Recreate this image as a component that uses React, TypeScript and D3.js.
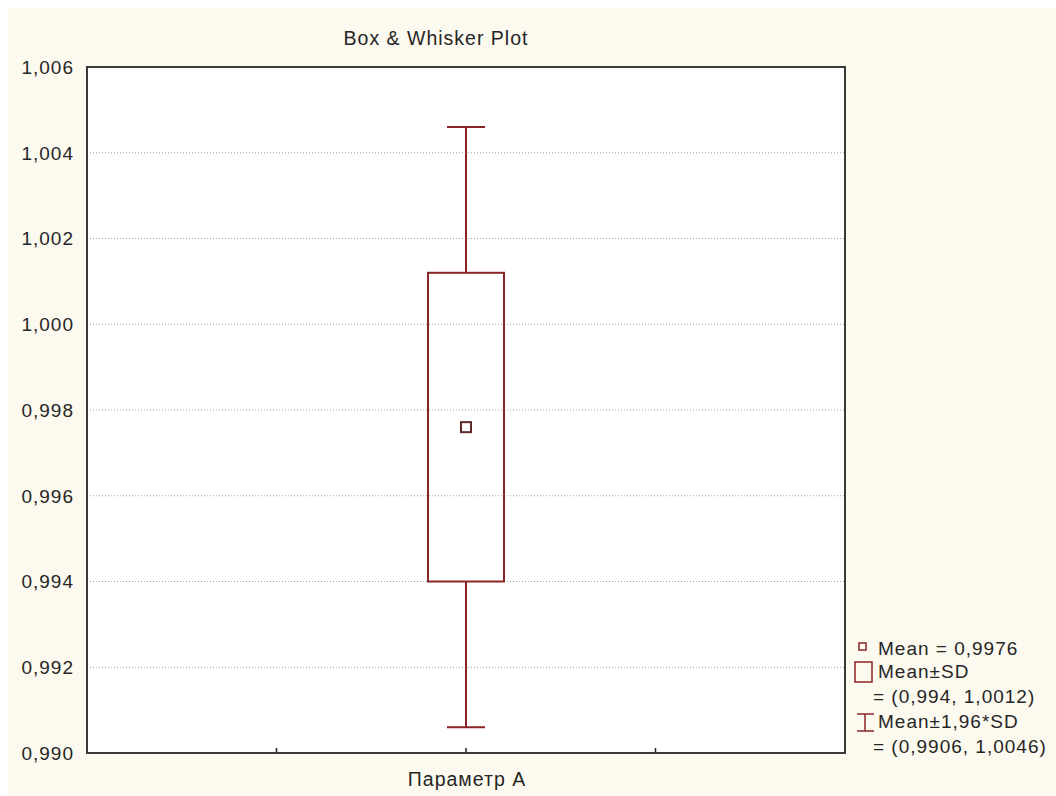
import * as d3 from 'd3';
import React from 'react';

// chart data
const categories = ['Параметр A'];
const means = [0.9976];
const sdLow = [0.994];
const sdHigh = [1.0012];
const ciLow = [0.9906];
const ciHigh = [1.0046];
const yDomain = [0.99, 1.006];
const yTickValues = [0.99, 0.992, 0.994, 0.996, 0.998, 1.0, 1.002, 1.004, 1.006];

const W = 1056;
const H = 796;
const margin = { top: 67, right: 211, bottom: 43, left: 87 };
const FONT = '"Liberation Sans", Arial, sans-serif';
const SPACING = 1;
const BOX_COLOR = '#8b2525';
const MEAN_COLOR = '#5e2a2a';
const TEXT_COLOR = '#262626';

const comma = (v: number) => String(v).replace('.', ',');
const fmtTick = (v: number) => v.toFixed(3).replace('.', ',');

export default function App() {
  const left = margin.left;
  const right = W - margin.right;
  const top = margin.top;
  const bottom = H - margin.bottom;

  const y = d3.scaleLinear().domain(yDomain).range([bottom, top]);
  const x = d3.scalePoint<string>().domain(categories).range([left, right]).padding(0.5);
  // minor ticks along the x axis (quarters of the frame)
  const xq = d3.scaleLinear().domain([0, 4]).range([left, right]);

  const boxW = 76;
  const capW = 38;

  const lx = 855;

  return (
    <>
      <style>{'body{margin:0;overflow:hidden}'}</style>
      <svg width={W} height={H} style={{ display: 'block' }} fontFamily={FONT} letterSpacing={SPACING}>
        <rect x={0} y={0} width={W} height={H} fill="#ffffff" />
        <rect x={8} y={8} width={W - 8} height={H - 8} fill="#fcf9ef" />

        <text x={436} y={45} textAnchor="middle" fontSize={19.5} fill={TEXT_COLOR}>
          Box &amp; Whisker Plot
        </text>

        {/* plot area */}
        <rect x={left} y={top} width={right - left} height={bottom - top} fill="#ffffff" />

        {yTickValues.slice(1, -1).map((t) => (
          <line
            key={'g' + t}
            x1={left}
            x2={right}
            y1={y(t)}
            y2={y(t)}
            stroke="#a0a0a0"
            strokeWidth={1}
            strokeDasharray="1,2"
          />
        ))}

        {yTickValues.map((t) => (
          <text
            key={'t' + t}
            x={74}
            y={y(t)}
            dy="0.36em"
            textAnchor="end"
            fontSize={19}
            fill={TEXT_COLOR}
          >
            {fmtTick(t)}
          </text>
        ))}

        {[1, 2, 3].map((k) => (
          <line key={'xt' + k} x1={xq(k)} x2={xq(k)} y1={bottom} y2={bottom - 5} stroke="#222" strokeWidth={1.5} />
        ))}

        {categories.map((c, i) => {
          const cx = x(c) as number;
          return (
            <g key={c}>
              <line x1={cx} x2={cx} y1={y(ciHigh[i])} y2={y(sdHigh[i])} stroke={BOX_COLOR} strokeWidth={2} />
              <line x1={cx} x2={cx} y1={y(sdLow[i])} y2={y(ciLow[i])} stroke={BOX_COLOR} strokeWidth={2} />
              <line x1={cx - capW / 2} x2={cx + capW / 2} y1={y(ciHigh[i])} y2={y(ciHigh[i])} stroke={BOX_COLOR} strokeWidth={2} />
              <line x1={cx - capW / 2} x2={cx + capW / 2} y1={y(ciLow[i])} y2={y(ciLow[i])} stroke={BOX_COLOR} strokeWidth={2} />
              <rect
                x={cx - boxW / 2}
                y={y(sdHigh[i])}
                width={boxW}
                height={y(sdLow[i]) - y(sdHigh[i])}
                fill="none"
                stroke={BOX_COLOR}
                strokeWidth={2}
              />
              <rect x={cx - 5} y={y(means[i]) - 5} width={10} height={10} fill="none" stroke={MEAN_COLOR} strokeWidth={2} />
              <text x={cx + 1} y={786} textAnchor="middle" fontSize={19.5} fill={TEXT_COLOR}>
                {c}
              </text>
            </g>
          );
        })}

        <rect x={left} y={top} width={right - left} height={bottom - top} fill="none" stroke="#3a3a3a" strokeWidth={2} />

        {/* legend */}
        <g fontSize={19} fill={TEXT_COLOR}>
          <rect x={lx + 4} y={643} width={7} height={7} fill="none" stroke={BOX_COLOR} strokeWidth={1.5} />
          <text x={878} y={655}>{`Mean = ${comma(means[0])}`}</text>

          <rect x={lx} y={662} width={17} height={20} fill="none" stroke={BOX_COLOR} strokeWidth={1.5} />
          <text x={878} y={678}>Mean±SD</text>
          <text x={873} y={703}>{`= (${comma(sdLow[0])}, ${comma(sdHigh[0])})`}</text>

          <line x1={lx + 10} x2={lx + 10} y1={714} y2={731} stroke={BOX_COLOR} strokeWidth={1.5} />
          <line x1={lx + 2} x2={lx + 19} y1={714} y2={714} stroke={BOX_COLOR} strokeWidth={1.5} />
          <line x1={lx + 2} x2={lx + 19} y1={731} y2={731} stroke={BOX_COLOR} strokeWidth={1.5} />
          <text x={878} y={728}>Mean±1,96*SD</text>
          <text x={873} y={753}>{`= (${comma(ciLow[0])}, ${comma(ciHigh[0])})`}</text>
        </g>
      </svg>
    </>
  );
}
